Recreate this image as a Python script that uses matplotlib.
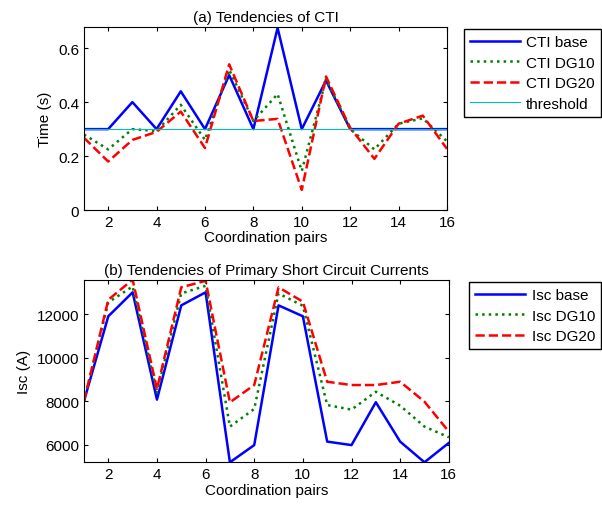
import matplotlib
matplotlib.use("Agg")
import matplotlib.pyplot as plt

plt.rcParams['font.family'] = ['Liberation Sans', 'DejaVu Sans']
plt.rcParams['font.size'] = 11

pairs = list(range(1, 17))

# (a) CTI values (s)
cti_base = [0.30, 0.30, 0.40, 0.30, 0.44, 0.30, 0.50, 0.30, 0.675, 0.30, 0.48, 0.30, 0.30, 0.30, 0.30, 0.30]
cti_dg10 = [0.28, 0.225, 0.30, 0.293, 0.39, 0.26, 0.52, 0.33, 0.43, 0.145, 0.485, 0.30, 0.225, 0.32, 0.34, 0.255]
cti_dg20 = [0.268, 0.18, 0.26, 0.29, 0.365, 0.23, 0.54, 0.33, 0.338, 0.075, 0.495, 0.305, 0.19, 0.32, 0.35, 0.227]
threshold = [0.30] * 16

# (b) primary short circuit currents (A)
isc_base = [8000, 11900, 13000, 8070, 12400, 13000, 5190, 5980, 12400, 11900, 6140, 5980, 7950, 6140, 5190, 6080]
isc_dg10 = [8000, 12540, 13270, 8400, 12950, 13300, 6830, 7640, 12950, 12380, 7820, 7610, 8430, 7790, 6830, 6340]
isc_dg20 = [8000, 12660, 13580, 8560, 13230, 13530, 7945, 8740, 13230, 12570, 8890, 8740, 8740, 8890, 7975, 6600]

fig = plt.figure(figsize=(6.02, 5.10), dpi=100)

def style(ax):
    ax.tick_params(direction='in', top=True, right=True, length=3, labelsize=11)
    ax.set_xlim(1, 16)
    ax.set_xticks(range(2, 17, 2))
    ax.set_xlabel('Coordination pairs', labelpad=1)
    for s in ax.spines.values():
        s.set_linewidth(0.8)

def legend(ax, top_px):
    fig.legend(handles=ax.get_lines(), loc='upper right', bbox_to_anchor=(601 / 602, 1 - top_px / 510),
               fancybox=False, edgecolor='black', framealpha=1, fontsize=11, handlelength=3.3,
               handletextpad=0.4, borderpad=0.4, labelspacing=0.43, borderaxespad=0)

ax1 = fig.add_axes([0.1395, 0.586, 0.603, 0.359])
ax1.plot(pairs, cti_base, color='#0000ff', lw=1.8, label='CTI base')
ax1.plot(pairs, cti_dg10, color='#008000', lw=1.8, ls=':', label='CTI DG10')
ax1.plot(pairs, cti_dg20, color='#ff0000', lw=1.8, ls='--', label='CTI DG20')
ax1.plot(pairs, threshold, color='#00bfbf', lw=0.8, label='threshold')
ax1.set_ylim(0, 0.678)
ax1.set_yticks([0, 0.2, 0.4, 0.6])
ax1.set_yticklabels(['0', '0.2', '0.4', '0.6'])
ax1.set_ylabel('Time (s)')
ax1.set_title('(a) Tendencies of CTI', fontsize=11, pad=4)
style(ax1)
legend(ax1, 30)

ax2 = fig.add_axes([0.1395, 0.0916, 0.606, 0.358])
ax2.plot(pairs, isc_base, color='#0000ff', lw=1.8, label='Isc base')
ax2.plot(pairs, isc_dg10, color='#008000', lw=1.8, ls=':', label='Isc DG10')
ax2.plot(pairs, isc_dg20, color='#ff0000', lw=1.8, ls='--', label='Isc DG20')
ax2.set_ylim(5190, 13580)
ax2.set_yticks([6000, 8000, 10000, 12000])
ax2.set_ylabel('Isc (A)')
ax2.set_title('(b) Tendencies of Primary Short Circuit Currents', fontsize=11, pad=4)
style(ax2)
legend(ax2, 283)

fig.savefig('out.png', dpi=100)
